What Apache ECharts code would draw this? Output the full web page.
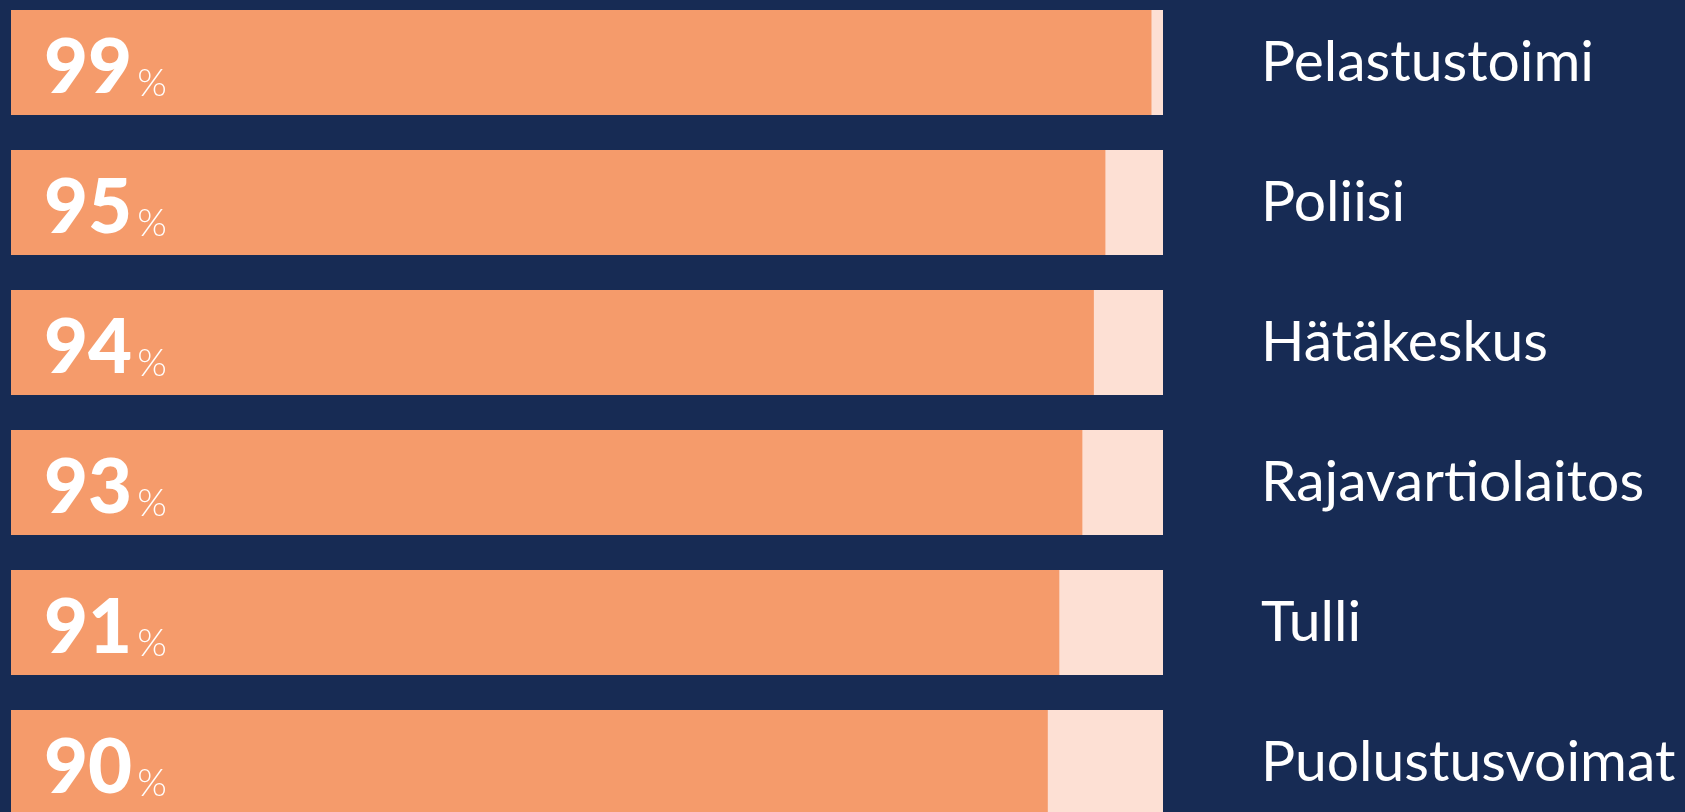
<!DOCTYPE html>
<html>
<head>
<meta charset="utf-8">
<script src="https://cdn.jsdelivr.net/npm/echarts@6/dist/echarts.min.js"></script>
<style>
html,body{margin:0;padding:0;background:#172b54;overflow:hidden;width:1685px;height:812px;}
#chart{position:absolute;left:0;top:-10px;width:1685px;height:850px;}
</style>
</head>
<body>
<div id="chart"></div>
<script>
const categories = ['Pelastustoimi', 'Poliisi', 'Hätäkeskus', 'Rajavartiolaitos', 'Tulli', 'Puolustusvoimat'];
const values = [99, 95, 94, 93, 91, 90];

const chart = echarts.init(document.getElementById('chart'));
chart.setOption({
  backgroundColor: '#172b54',
  animation: false,
  grid: { left: 11, right: 522, top: 2.5, height: 840, containLabel: false },
  xAxis: {
    type: 'value', min: 0, max: 100,
    show: false
  },
  yAxis: {
    type: 'category',
    data: categories,
    inverse: true,
    position: 'right',
    axisLine: { show: false },
    axisTick: { show: false },
    splitLine: { show: false },
    axisLabel: {
      margin: 98,
      align: 'left',
      color: '#ffffff',
      fontFamily: 'Lato',
      fontSize: 57,
      fontWeight: 'normal'
    }
  },
  series: [{
    type: 'bar',
    data: values,
    barWidth: 105,
    itemStyle: { color: '#f59b6b' },
    showBackground: true,
    backgroundStyle: { color: '#fde0d4' },
    label: {
      show: true,
      position: 'insideLeft',
      distance: 33,
      offset: [0, 6],
      formatter: p => '{a|' + p.value + '}{b|%}',
      rich: {
        a: { color: '#ffffff', fontFamily: 'Lato', fontWeight: 900, fontSize: 76, lineHeight: 76, verticalAlign: 'bottom' },
        b: { color: '#ffffff', fontFamily: 'Lato', fontWeight: 300, fontSize: 38, lineHeight: 38, verticalAlign: 'bottom', padding: [0, 0, 4, 5] }
      }
    }
  }]
});
</script>
</body>
</html>
